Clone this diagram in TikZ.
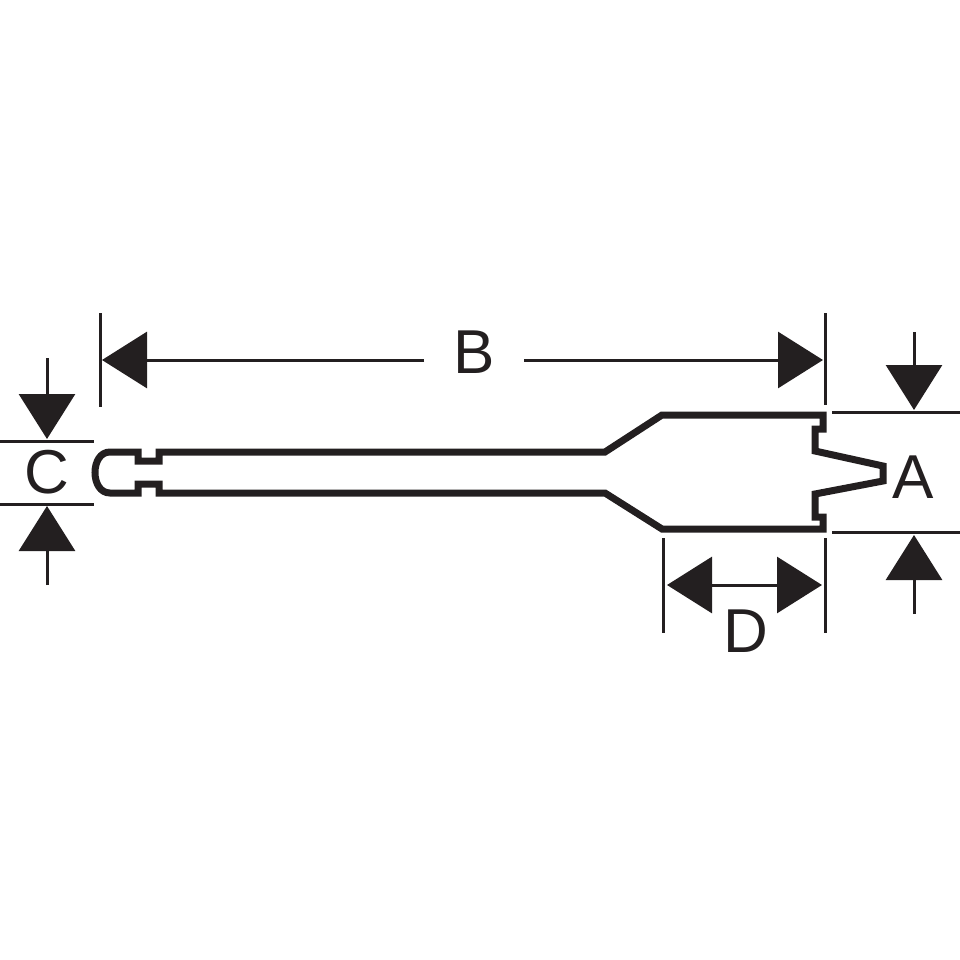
\documentclass[tikz,border=0pt]{standalone}
\usepackage{fontspec}
\setmainfont{Liberation Sans}
\usepackage{xcolor}
\usetikzlibrary{arrows.meta}
\definecolor{inkblack}{HTML}{231F20}

\begin{document}
\begin{tikzpicture}[x=1pt,y=-1pt,
    outline/.style={draw=inkblack,line width=7pt,miter limit=10,line join=miter},
    dimline/.style={draw=inkblack,line width=3pt},
    dimarrow/.style={dimline,-{Triangle[length=45pt,width=56pt,color=inkblack]}},
    dimlabel/.style={text=inkblack,font=\fontsize{62}{62}\selectfont,inner sep=0pt}]
    \useasboundingbox (0,0) rectangle (960,960);
    % bit outline
    \draw[outline] (110,452) -- (138,452) -- (138,461) -- (159,461) -- (159,452)
      -- (605,452) -- (662,415) -- (823,415) -- (823,429) -- (815,429) -- (815,451)
      -- (883,466) -- (883,481) -- (815,494) -- (815,517) -- (823,517) -- (823,529)
      -- (662,529) -- (605,493) -- (159,493) -- (159,484) -- (138,484) -- (138,493)
      -- (110,493) .. controls (90,493) and (90,452) .. cycle;
    % labels
    \node[dimlabel] (B) at (474,352) {B};
    \node[dimlabel] (C) at (47,472) {C};
    \node[dimlabel] (A) at (913,477) {A};
    \node[dimlabel] (D) at (746,631) {D};
    % extension lines
    \coordinate (bl1) at (100,313);
    \coordinate (bl2) at (100,407);
    \coordinate (br1) at (825,313);
    \coordinate (br2) at (825,405);
    \coordinate (dl1) at (663,538);
    \coordinate (dl2) at (663,633);
    \coordinate (dr1) at (825,538);
    \coordinate (dr2) at (825,633);
    \coordinate (ct1) at (0,441);
    \coordinate (ct2) at (94,441);
    \coordinate (cb1) at (0,504);
    \coordinate (cb2) at (94,504);
    \coordinate (at1) at (832,412);
    \coordinate (at2) at (960,412);
    \coordinate (ab1) at (832,532);
    \coordinate (ab2) at (960,532);
    \draw[dimline] (bl1) -- (bl2);
    \draw[dimline] (br1) -- (br2);
    \draw[dimline] (dl1) -- (dl2);
    \draw[dimline] (dr1) -- (dr2);
    \draw[dimline] (ct1) -- (ct2);
    \draw[dimline] (cb1) -- (cb2);
    \draw[dimline] (at1) -- (at2);
    \draw[dimline] (ab1) -- (ab2);
    % arrows
    \coordinate (bs1) at (424,360);
    \coordinate (bt1) at (102,360);
    \coordinate (bs2) at (524,360);
    \coordinate (bt2) at (823,360);
    \coordinate (cs1) at (47,358);
    \coordinate (ct) at (47,439);
    \coordinate (cs2) at (47,585);
    \coordinate (cb) at (47,506);
    \coordinate (as1) at (914,332);
    \coordinate (at) at (914,410);
    \coordinate (as2) at (914,614);
    \coordinate (ab) at (914,535);
    \coordinate (dm) at (745,585);
    \coordinate (dt1) at (667,585);
    \coordinate (dt2) at (822,585);
    \draw[dimarrow] (bs1) -- (bt1);
    \draw[dimarrow] (bs2) -- (bt2);
    \draw[dimarrow] (cs1) -- (ct);
    \draw[dimarrow] (cs2) -- (cb);
    \draw[dimarrow] (as1) -- (at);
    \draw[dimarrow] (as2) -- (ab);
    \draw[dimarrow] (dm) -- (dt1);
    \draw[dimarrow] (dm) -- (dt2);
\end{tikzpicture}
\end{document}
